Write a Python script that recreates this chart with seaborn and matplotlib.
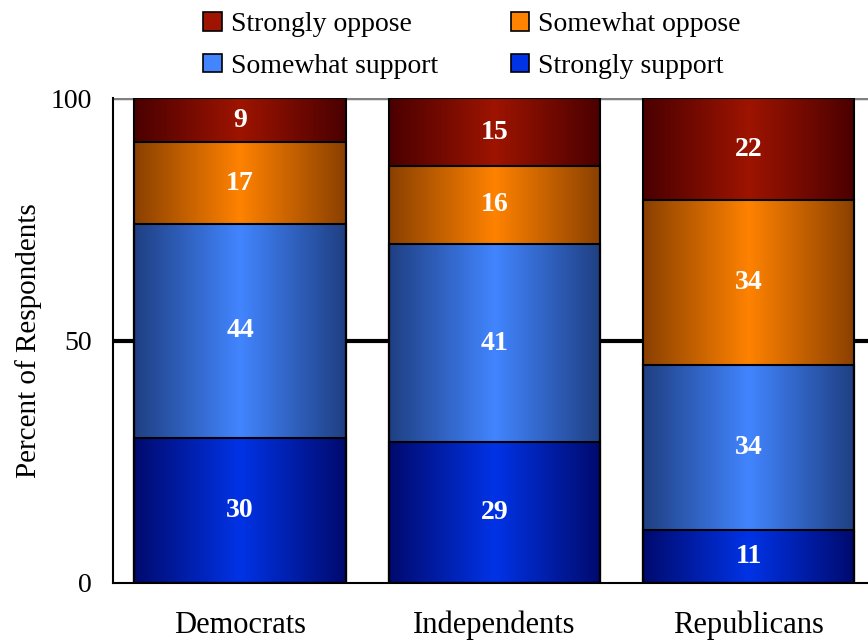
import numpy as np
import pandas as pd
import matplotlib
matplotlib.use("Agg")
import matplotlib.pyplot as plt
import seaborn as sns
from matplotlib.patches import Patch
from matplotlib.colors import to_rgb

# ---- data ----
groups = ["Democrats", "Independents", "Republicans"]
series_names = ["Strongly support", "Somewhat support", "Somewhat oppose", "Strongly oppose"]
strongly_support = [30, 29, 11]
somewhat_support = [44, 41, 34]
somewhat_oppose = [17, 16, 34]
strongly_oppose = [9, 15, 22]
y_ticks = [0, 50, 100]

center_colors = {"Strongly support": "#0033e6", "Somewhat support": "#4285ff",
                 "Somewhat oppose": "#ff8200", "Strongly oppose": "#9e1400"}
edge_colors = {"Strongly support": "#000a6e", "Somewhat support": "#1f3f82",
               "Somewhat oppose": "#8a4000", "Strongly oppose": "#4a0000"}

sns.set_style("white")
plt.rcParams['font.family'] = ['Liberation Serif', 'DejaVu Serif']
plt.rcParams['text.color'] = 'black'
plt.rcParams['axes.labelcolor'] = 'black'
plt.rcParams['xtick.color'] = 'black'
plt.rcParams['ytick.color'] = 'black'

Y_MAX = 100
values = [strongly_support, somewhat_support, somewhat_oppose, strongly_oppose]
cum = np.cumsum(np.array(values), axis=0)  # rows: cumulative tops
cum_shown = np.minimum(cum, Y_MAX)          # axis is cut at 100

fig = plt.figure(figsize=(8.68, 6.42), dpi=100)
ax = fig.add_axes([0.130, 0.092, 0.879, 0.755])

# draw overlaid cumulative bars from tallest to shortest
n_layers = len(series_names)
for li in range(n_layers - 1, -1, -1):
    df = pd.DataFrame({"group": groups, "value": cum_shown[li]})
    sns.barplot(data=df, x="group", y="value", ax=ax, width=0.83,
                facecolor="none", edgecolor="black", linewidth=1.5,
                errorbar=None, zorder=5)

# gradient fills clipped to each bar patch
def gradient(c_center, c_edge, n=256):
    t = np.linspace(-1, 1, n)
    w = (1 - np.abs(t))
    cc = np.array(to_rgb(c_center)); ce = np.array(to_rgb(c_edge))
    img = ce[None, :] + (cc - ce)[None, :] * w[:, None]
    return img[None, :, :]

patches = list(ax.patches)
order = list(range(n_layers - 1, -1, -1))
for k, p in enumerate(patches):
    layer = order[k // len(groups)]
    name = series_names[layer]
    x0, y0 = p.get_x(), p.get_y()
    w, h = p.get_width(), p.get_height()
    im = ax.imshow(gradient(center_colors[name], edge_colors[name]),
                   extent=[x0, x0 + w, y0, y0 + h], aspect="auto",
                   zorder=1 + 0.1 * k, interpolation="bilinear")
    im.set_clip_path(p)

# value labels (centered in visible part of each segment)
for li, name in enumerate(series_names):
    for gi, g in enumerate(groups):
        top = cum_shown[li][gi]
        bottom = cum[li][gi] - values[li][gi]
        ax.text(gi, (top + bottom) / 2, f"{values[li][gi]}", ha="center", va="center",
                color="white", fontsize=20, fontweight="bold", zorder=10)

ax.axhline(50, color="black", lw=3, zorder=0.5)
ax.axhline(100, color="#808080", lw=2.5, zorder=0.5)

ax.set_xlim(-0.5, 2.5)
ax.set_ylim(0, Y_MAX)
ax.set_yticks(y_ticks)
ax.set_yticklabels([str(v) for v in y_ticks])
ax.set_xlabel("")
ax.set_ylabel("Percent of Respondents", fontsize=21, labelpad=6)
ax.set_xticks([0, 1, 2])
ax.set_xticklabels(groups)
ax.set_xticks([-0.5, 0.5, 1.5, 2.5], minor=True)
ax.tick_params(axis="x", which="major", length=0, pad=20, labelsize=22)
ax.tick_params(axis="x", which="minor", length=8, width=1.5, direction="out", color="black")
ax.tick_params(axis="y", which="major", length=8, width=1.5, direction="out", pad=7, labelsize=20, color="black")
for s in ["top", "right"]:
    ax.spines[s].set_visible(False)
for s in ["left", "bottom"]:
    ax.spines[s].set_color("black")
    ax.spines[s].set_linewidth(1.5)

legend_order = ["Strongly oppose", "Somewhat support", "Somewhat oppose", "Strongly support"]
handles = [Patch(facecolor=center_colors[n], edgecolor="black", linewidth=1.2, label=n) for n in legend_order]
fig.legend(handles=handles, ncol=2, loc="upper left", bbox_to_anchor=(0.228, 0.99),
           frameon=False, fontsize=20, handlelength=0.65, handleheight=0.65,
           handletextpad=0.35, columnspacing=2.6, labelspacing=0.6,
           borderpad=0.2, borderaxespad=0)

fig.savefig("out.png", dpi=100)
